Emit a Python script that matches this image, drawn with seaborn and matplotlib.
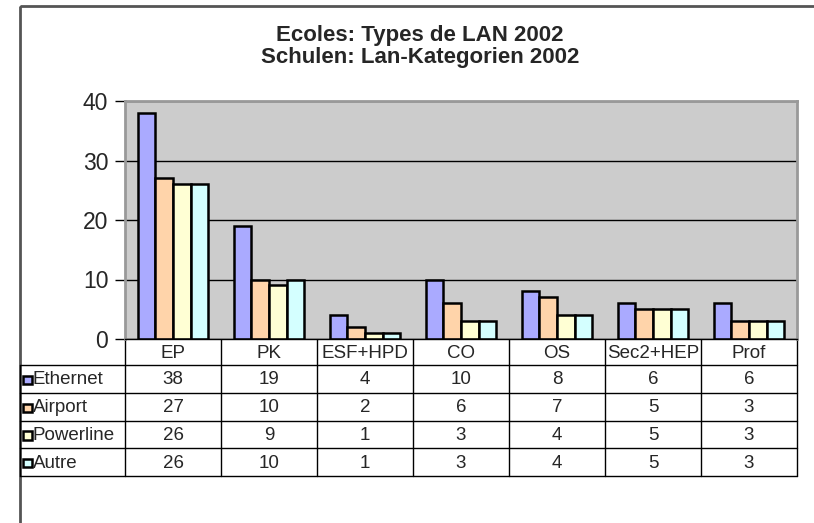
import pandas as pd
import matplotlib.pyplot as plt
import seaborn as sns
from matplotlib.patches import Rectangle

# data
categories = ['EP', 'PK', 'ESF+HPD', 'CO', 'OS', 'Sec2+HEP', 'Prof']
series = ['Ethernet', 'Airport', 'Powerline', 'Autre']
ethernet = [38, 19, 4, 10, 8, 6, 6]
airport = [27, 10, 2, 6, 7, 5, 3]
powerline = [26, 9, 1, 3, 4, 5, 3]
autre = [26, 10, 1, 3, 4, 5, 3]
colors = ['#AAAAFF', '#FFD4AA', '#FFFFD4', '#D4FFFF']

values = [ethernet, airport, powerline, autre]
df = pd.DataFrame({
    'cat': categories * 4,
    'serie': [s for s in series for _ in categories],
    'value': [v for vals in values for v in vals],
})

sns.set_style('white')
plt.rcParams['font.family'] = ['Liberation Sans', 'DejaVu Sans']

W, H = 814, 523
fig = plt.figure(figsize=(W / 100, H / 100), dpi=100)

# overlay in pixel coordinates for frame, title and data table
ov = fig.add_axes([0, 0, 1, 1], zorder=0)
ov.set_xlim(0, W)
ov.set_ylim(H, 0)
ov.axis('off')
ov.add_patch(Rectangle((20, 6), 820, 540, fill=False, edgecolor='#555555', lw=2))

px_left, px_right, px_top, px_bot = 125, 797, 101, 339
ax = fig.add_axes([px_left / W, 1 - px_bot / H, (px_right - px_left) / W, (px_bot - px_top) / H], zorder=1)
ax.set_facecolor('#CCCCCC')

sns.barplot(data=df, x='cat', y='value', hue='serie', palette=colors, saturation=1,
            width=0.73, edgecolor='black', linewidth=1.8, legend=False, ax=ax)

ax.set_ylim(0, 40)
ax.set_xlim(-0.5, len(categories) - 0.5)
ax.set_yticks([0, 10, 20, 30, 40])
ax.yaxis.grid(True, color='black', lw=1)
ax.set_axisbelow(True)
ax.tick_params(axis='y', left=True, length=7, width=1, color='black', labelsize=16.5, pad=5)
ax.tick_params(axis='x', bottom=False, labelbottom=False)
ax.set_xlabel('')
ax.set_ylabel('')
for side in ['top', 'right', 'left']:
    ax.spines[side].set_color('#999999')
    ax.spines[side].set_linewidth(2)
ax.spines['bottom'].set_color('black')
ax.spines['bottom'].set_linewidth(1)

# title
ov.text(420, 35, 'Ecoles: Types de LAN 2002', ha='center', va='center', fontsize=16, fontweight='bold')
ov.text(420, 57, 'Schulen: Lan-Kategorien 2002', ha='center', va='center', fontsize=16, fontweight='bold')

# data table below the plot
colw = (px_right - px_left) / len(categories)
row_tops = [339, 365, 393, 421, 448, 476]
for y in row_tops[1:]:
    ov.plot([20, px_right], [y, y], color='black', lw=1)
for i in range(len(categories) + 1):
    x = px_left + i * colw
    ov.plot([x, x], [row_tops[0], row_tops[-1]], color='black', lw=1)
ov.plot([20, 20], [row_tops[1], row_tops[-1]], color='black', lw=1)

fs = 13.5
for i, c in enumerate(categories):
    ov.text(px_left + (i + 0.5) * colw, (row_tops[0] + row_tops[1]) / 2 + 1, c,
            ha='center', va='center', fontsize=fs)
for r, (name, vals, col) in enumerate(zip(series, values, colors)):
    yc = (row_tops[r + 1] + row_tops[r + 2]) / 2 + 1
    ov.add_patch(Rectangle((23, yc - 4.5), 8.5, 8.5, facecolor=col, edgecolor='black', lw=1.8))
    ov.text(33, yc, name, ha='left', va='center', fontsize=fs)
    for i, v in enumerate(vals):
        ov.text(px_left + (i + 0.5) * colw, yc, str(v), ha='center', va='center', fontsize=fs)

fig.savefig('out.png', dpi=100)
